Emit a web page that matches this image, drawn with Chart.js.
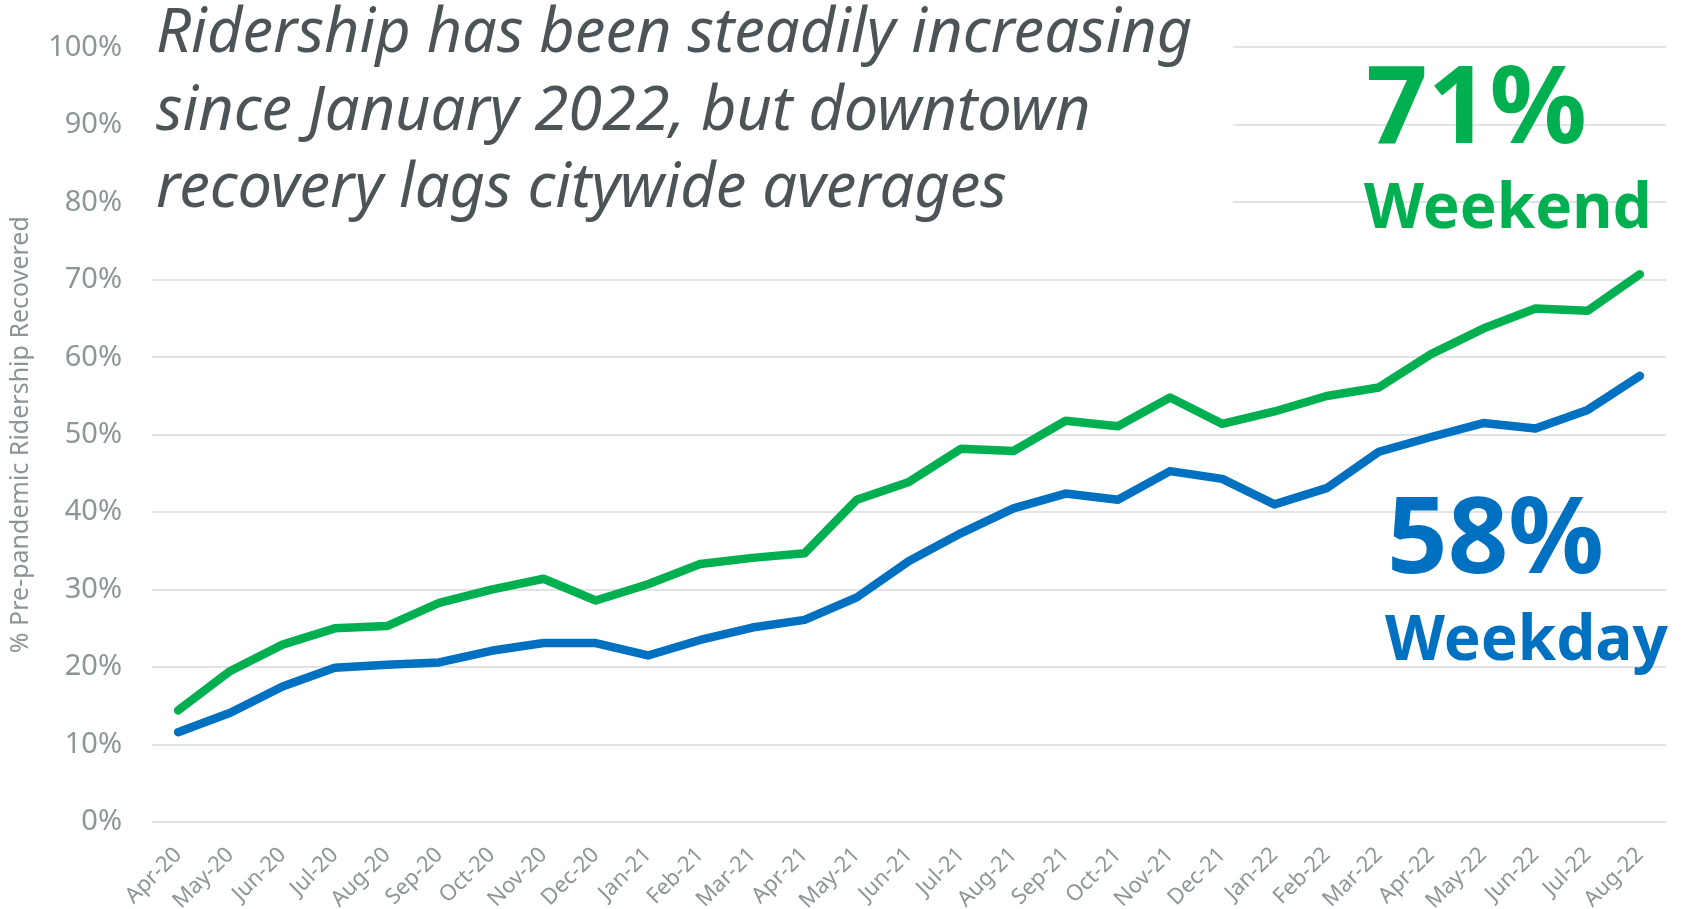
<!DOCTYPE html>
<html>
<head>
<meta charset="utf-8">
<script src="https://cdn.jsdelivr.net/npm/chart.js@4"></script>
<style>
  html, body { margin: 0; padding: 0; background: #fff; }
  #wrap { width: 1681px; height: 909px; }
</style>
</head>
<body>
<div id="wrap"><canvas id="chart" width="1681" height="909"></canvas></div>
<script>
const months = ["Apr-20","May-20","Jun-20","Jul-20","Aug-20","Sep-20","Oct-20","Nov-20","Dec-20",
  "Jan-21","Feb-21","Mar-21","Apr-21","May-21","Jun-21","Jul-21","Aug-21","Sep-21","Oct-21","Nov-21","Dec-21",
  "Jan-22","Feb-22","Mar-22","Apr-22","May-22","Jun-22","Jul-22","Aug-22"];
const weekend = [14.4,19.5,22.9,25.0,25.3,28.3,30.0,31.4,28.6,
  30.7,33.3,34.1,34.7,41.6,43.9,48.2,47.9,51.8,51.1,54.8,51.4,
  53.0,55.0,56.1,60.4,63.7,66.3,66.0,70.7];
const weekday = [11.6,14.1,17.5,19.9,20.3,20.6,22.1,23.1,23.1,
  21.5,23.5,25.1,26.1,29.0,33.7,37.3,40.5,42.4,41.6,45.3,44.3,
  41.0,43.1,47.8,49.7,51.5,50.8,53.2,57.6];
const titleLines = ["Ridership has been steadily increasing",
  "since January 2022, but downtown",
  "recovery lags citywide averages"];
const yTitle = "% Pre-pandemic Ridership Recovered";

const GREEN = "#00b050", BLUE = "#0070c0", GRAY = "#8c9597", DARK = "#4d5458";
const FONT = "'Noto Sans', 'Open Sans', sans-serif";

const overlay = {
  id: "overlay",
  beforeDatasetsDraw(chart) {
    const ctx = chart.ctx;
    ctx.save();
    ctx.fillStyle = "#fff";
    ctx.fillRect(140, 0, 1093, 236);
    ctx.fillStyle = DARK;
    ctx.textBaseline = "alphabetic";
    ctx.textAlign = "left";
    ctx.font = "italic 52px " + FONT;
    // fit first line to the reference width
    let w = ctx.measureText(titleLines[0]).width;
    let size = 52 * 1036 / w;
    ctx.font = "italic " + size.toFixed(1) + "px " + FONT;
    titleLines.forEach((t, i) => ctx.fillText(t, 156, 52 + i * 77.5));
    ctx.restore();
  },
  afterDraw(chart) {
    const ctx = chart.ctx;
    ctx.save();
    ctx.textAlign = "left";
    ctx.textBaseline = "alphabetic";
    ctx.fillStyle = GREEN;
    ctx.font = "bold 108px " + FONT;
    ctx.fillText(Math.round(weekend[weekend.length - 1]) + "%", 1366, 143);
    ctx.font = "bold 62px " + FONT;
    ctx.fillText("Weekend", 1364, 228);
    ctx.fillStyle = BLUE;
    ctx.font = "bold 106px " + FONT;
    ctx.fillText(Math.round(weekday[weekday.length - 1]) + "%", 1387, 573);
    ctx.font = "bold 62px " + FONT;
    ctx.fillText("Weekday", 1385, 660);
    ctx.restore();
  }
};

new Chart(document.getElementById("chart"), {
  type: "line",
  data: {
    labels: months,
    datasets: [
      { label: "Weekend", data: weekend, borderColor: GREEN, backgroundColor: GREEN },
      { label: "Weekday", data: weekday, borderColor: BLUE, backgroundColor: BLUE }
    ]
  },
  options: {
    responsive: false,
    animation: false,
    layout: { padding: { top: 47, right: 15, bottom: 0, left: 0 } },
    elements: {
      line: { borderWidth: 8.5, borderCapStyle: "round", borderJoinStyle: "round", tension: 0 },
      point: { radius: 0 }
    },
    plugins: { legend: { display: false }, tooltip: { enabled: false } },
    scales: {
      x: {
        offset: true,
        grid: { display: false },
        border: { display: false },
        ticks: {
          color: GRAY, font: { family: FONT, size: 22 },
          minRotation: 45, maxRotation: 45, autoSkip: false, padding: 12
        },
        afterFit: s => { s.height = 87; }
      },
      y: {
        min: 0, max: 100,
        border: { display: false },
        grid: { color: "#e3e3e3", lineWidth: 2, drawTicks: false },
        ticks: {
          stepSize: 10, color: GRAY, padding: 30,
          font: { family: FONT, size: 29 },
          callback: v => v + "%"
        },
        title: {
          display: true, text: yTitle, color: GRAY,
          font: { family: FONT, size: 25 }, padding: { top: 6 }
        },
        afterFit: s => { s.width = 152; }
      }
    }
  },
  plugins: [overlay]
});
</script>
</body>
</html>
